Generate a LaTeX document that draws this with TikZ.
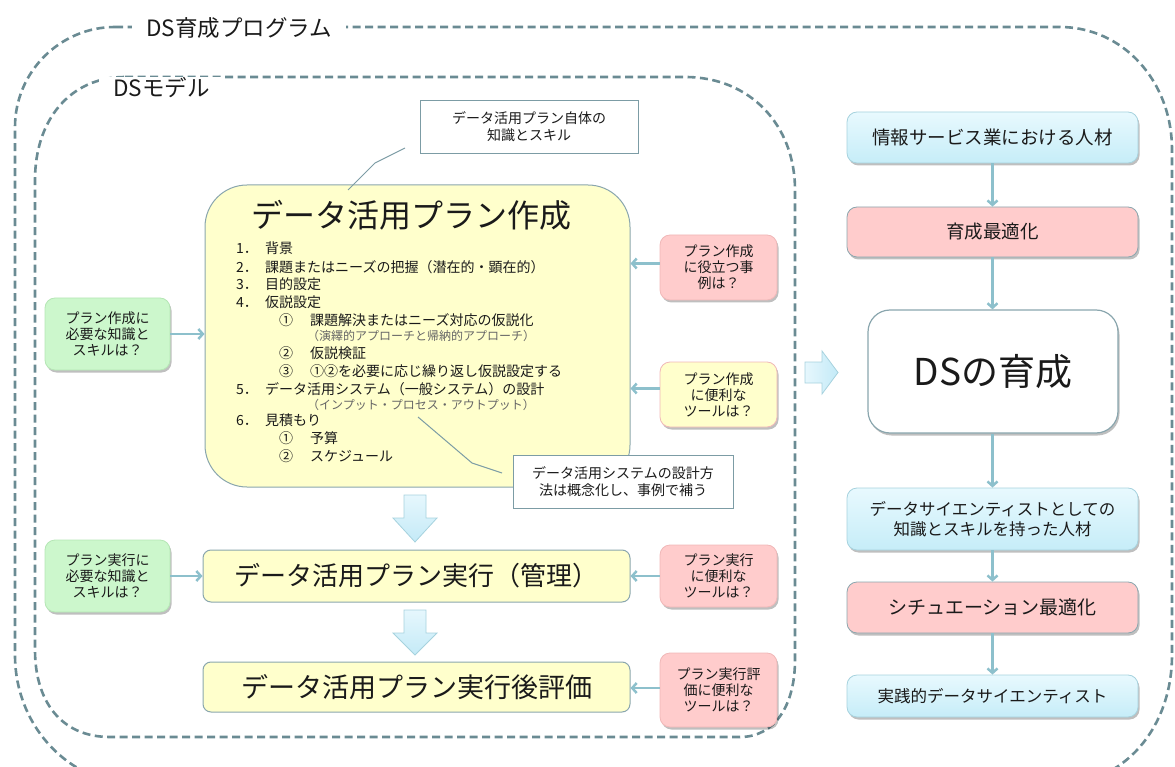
\documentclass[tikz,border=0pt]{standalone}
\usepackage{fontspec}
\setmainfont{Noto Sans CJK JP}
\usetikzlibrary{shadows,arrows.meta,calc}
\definecolor{dscol}{HTML}{6A8B93}
\definecolor{bordercol}{HTML}{8AA6AE}
\definecolor{yel}{HTML}{FFFFCC}
\definecolor{grn}{HTML}{CCF7CC}
\definecolor{grnb}{HTML}{B5E6B5}
\definecolor{pnk}{HTML}{FFCCCC}
\definecolor{pnkb}{HTML}{F0B8B8}
\definecolor{conncol}{HTML}{8DC0CC}
\definecolor{blt}{HTML}{E8F9FE}
\definecolor{blb}{HTML}{C6EDF8}
\definecolor{blborder}{HTML}{A6D2DE}
\definecolor{arrtop}{HTML}{E6F7FD}
\definecolor{arrbot}{HTML}{C4EAF7}
\definecolor{calloutcol}{HTML}{7C9CA5}
\definecolor{txt}{HTML}{1A1A1A}
\begin{document}
\begin{tikzpicture}[x=1pt,y=-1pt,
  dsline/.style={draw=dscol,line width=2.6pt,dash pattern=on 8pt off 4.5pt},
  grouplabel/.style={fill=white,inner xsep=14pt,inner ysep=1pt,anchor=west,text=txt,font=\fontsize{22.5}{26}\selectfont},
  conn/.style={draw=conncol,line width=2.5pt,-{Straight Barb[length=4.5pt,width=10pt]}},
  sh/.style={drop shadow={shadow xshift=1.5pt,shadow yshift=-2.5pt,opacity=0.25,fill=black}},
  planbox/.style={draw=bordercol,line width=1pt,fill=yel,text=txt,inner sep=0pt},
  qbox/.style={sh,rounded corners=10pt,line width=0.8pt,minimum width=117pt,inner sep=0pt,align=center,text=txt,font=\fontsize{14}{16}\selectfont},
  greenq/.style={qbox,fill=grn,draw=grnb,minimum width=125pt,minimum height=72pt},
  pinkq/.style={qbox,fill=pnk,draw=pnkb},
  yellowq/.style={qbox,fill=yel,draw=pnkb},
  callout/.style={draw=calloutcol,line width=0.8pt,fill=white,align=center,inner sep=0pt,text=txt,font=\fontsize{14}{17}\selectfont},
  calloutline/.style={draw=calloutcol,line width=1pt},
  li/.style={anchor=west,inner sep=0pt,text=txt,font=\fontsize{14}{16}\selectfont},
  subli/.style={anchor=west,inner sep=0pt,text=black!60,font=\fontsize{12}{13}\selectfont},
  rbox/.style={sh,rounded corners=10pt,line width=0.8pt,minimum width=291pt,inner sep=0pt,align=center,text=txt},
  bluebox/.style={rbox,draw=blborder,top color=blt,bottom color=blb},
  pinkbox/.style={rbox,draw=bordercol,fill=pnk},
  blockarrow/.style={draw=blborder,line width=0.8pt,top color=arrtop,bottom color=arrbot},
  rightarrow/.style={draw=blborder,line width=0.8pt,left color=arrtop,right color=arrbot}
]
\useasboundingbox (0,0) rectangle (1175,767);

% outer dashed group
\draw[dsline] (115,27) -- (1060,27) .. controls (1122,27) and (1172,80) .. (1172,150)
  -- (1172,655) .. controls (1172,727) and (1125,785) .. (1055,785)
  -- (140,785) .. controls (70,785) and (15,727) .. (15,655)
  -- (15,127) .. controls (15,72) and (60,27) .. (115,27) -- cycle;
\node[grouplabel] (lprog) at (132,28) {DS育成プログラム};

% inner dashed group
\draw[dsline] (125,77) -- (685,77) .. controls (750,77) and (795,125) .. (795,190)
  -- (795,660) .. controls (795,705) and (775,737) .. (740,737)
  -- (110,737) .. controls (60,737) and (35,700) .. (35,650)
  -- (35,180) .. controls (35,120) and (70,77) .. (125,77) -- cycle;
\node[grouplabel] (lmodel) at (99,88) {DSモデル};

% main plan box
\node[planbox,rounded corners=42pt,minimum width=425pt,minimum height=302pt] (main) at (417.5,336) {};
\node[inner sep=0pt,text=txt,font=\fontsize{32}{36}\selectfont] (title) at (411,215) {データ活用プラン作成};
\node[li] (i1) at (236,248) {\makebox[29pt][l]{1．}背景};
\node[li] (i2) at (236,267) {\makebox[29pt][l]{2．}課題またはニーズの把握（潜在的・顕在的）};
\node[li] (i3) at (236,284) {\makebox[29pt][l]{3．}目的設定};
\node[li] (i4) at (236,302) {\makebox[29pt][l]{4．}仮説設定};
\node[li] (i41) at (279,320) {\makebox[31pt][l]{①}課題解決またはニーズ対応の仮説化};
\node[subli] (s41) at (307,336) {（演繹的アプローチと帰納的アプローチ）};
\node[li] (i42) at (279,353) {\makebox[31pt][l]{②}仮説検証};
\node[li] (i43) at (279,371) {\makebox[31pt][l]{③}①②を必要に応じ繰り返し仮説設定する};
\node[li] (i5) at (236,389) {\makebox[29pt][l]{5．}データ活用システム（一般システム）の設計};
\node[subli] (s5) at (307,405) {（インプット・プロセス・アウトプット）};
\node[li] (i6) at (236,420) {\makebox[29pt][l]{6．}見積もり};
\node[li] (i61) at (279,438) {\makebox[31pt][l]{①}予算};
\node[li] (i62) at (279,456) {\makebox[31pt][l]{②}スケジュール};

% execution boxes
\node[planbox,rounded corners=8pt,minimum width=427pt,minimum height=52pt,font=\fontsize{26}{30}\selectfont] (exec) at (416.5,576) {データ活用プラン実行（管理）};
\node[planbox,rounded corners=8pt,minimum width=427pt,minimum height=50pt,font=\fontsize{27}{30}\selectfont] (eval) at (416.5,687) {データ活用プラン実行後評価};

% block arrows down
\draw[blockarrow] (404,495) -- (426,495) -- (426,518) -- (437,518) -- (415,542) -- (393,518) -- (404,518) -- cycle;
\draw[blockarrow] (404,610) -- (426,610) -- (426,633) -- (437,633) -- (415,655) -- (393,633) -- (404,633) -- cycle;

% callouts
\node[callout,minimum width=218pt,minimum height=53pt] (c1) at (529,126.5) {データ活用プラン自体の\\知識とスキル};
\coordinate (c1a) at (405,148);
\coordinate (c1b) at (375,163);
\coordinate (c1c) at (348,190);
\draw[calloutline] (c1a) -- (c1b) -- (c1c);
\node[callout,minimum width=220pt,minimum height=53pt] (c2) at (623,481.5) {データ活用システムの設計方\\法は概念化し、事例で補う};
\coordinate (c2a) at (418,417);
\coordinate (c2b) at (472,463);
\coordinate (c2c) at (502,473);
\draw[calloutline] (c2a) -- (c2b) -- (c2c);

% question boxes
\node[greenq] (g1) at (107.5,334) {プラン作成に\\必要な知識と\\スキルは？};
\node[greenq] (g2) at (107.5,576) {プラン実行に\\必要な知識と\\スキルは？};
\node[pinkq,minimum height=65pt] (p1) at (718.5,267.5) {プラン作成\\に役立つ事\\例は？};
\node[yellowq,minimum height=65pt] (y1) at (718.5,394.5) {プラン作成\\に便利な\\ツールは？};
\node[pinkq,minimum height=62pt] (p2) at (718.5,576) {プラン実行\\に便利な\\ツールは？};
\node[pinkq,minimum height=74pt] (p3) at (718.5,690) {プラン実行評\\価に便利な\\ツールは？};

\draw[conn] (g1.east) -- (g1.east -| main.west);
\draw[conn] (g2.east) -- (g2.east -| exec.west);
\draw[conn] ([yshift=4pt]p1.west) -- ([yshift=4pt]p1.west -| main.east);
\draw[conn] ([yshift=6pt]y1.west) -- ([yshift=6pt]y1.west -| main.east);
\draw[conn] (p2.west) -- (p2.west -| exec.east);
\draw[conn] ([yshift=2pt]p3.west) -- ([yshift=2pt]p3.west -| eval.east);

% right arrow
\draw[rightarrow] (805,362) -- (822,362) -- (822,351) -- (838,372.5) -- (822,394) -- (822,383) -- (805,383) -- cycle;

% right column
\node[bluebox,minimum height=51pt,font=\fontsize{18.5}{22}\selectfont] (r1) at (992.5,137.5) {情報サービス業における人材};
\node[pinkbox,minimum height=50pt,font=\fontsize{18.5}{22}\selectfont] (r2) at (992.5,232) {育成最適化};
\node[rbox,draw=bordercol,fill=white,line width=1.2pt,rounded corners=22pt,minimum width=250pt,minimum height=123pt,font=\fontsize{37}{42}\selectfont] (r3) at (993,371.5) {DSの育成};
\node[bluebox,minimum height=62pt,font=\fontsize{16.5}{20}\selectfont] (r4) at (992.5,519) {データサイエンティストとしての\\知識とスキルを持った人材};
\node[pinkbox,minimum height=51pt,font=\fontsize{19}{22}\selectfont] (r5) at (992.5,607.5) {シチュエーション最適化};
\node[bluebox,minimum height=42pt,font=\fontsize{16.5}{20}\selectfont] (r6) at (992.5,696) {実践的データサイエンティスト};

\draw[conn] (r1.south) -- (r2.north);
\draw[conn] (r2.south) -- (r2.south |- r3.north);
\draw[conn] (r3.south -| r4.north) -- (r4.north);
\draw[conn] (r4.south) -- (r5.north);
\draw[conn] (r5.south) -- (r6.north);
\end{tikzpicture}
\end{document}
